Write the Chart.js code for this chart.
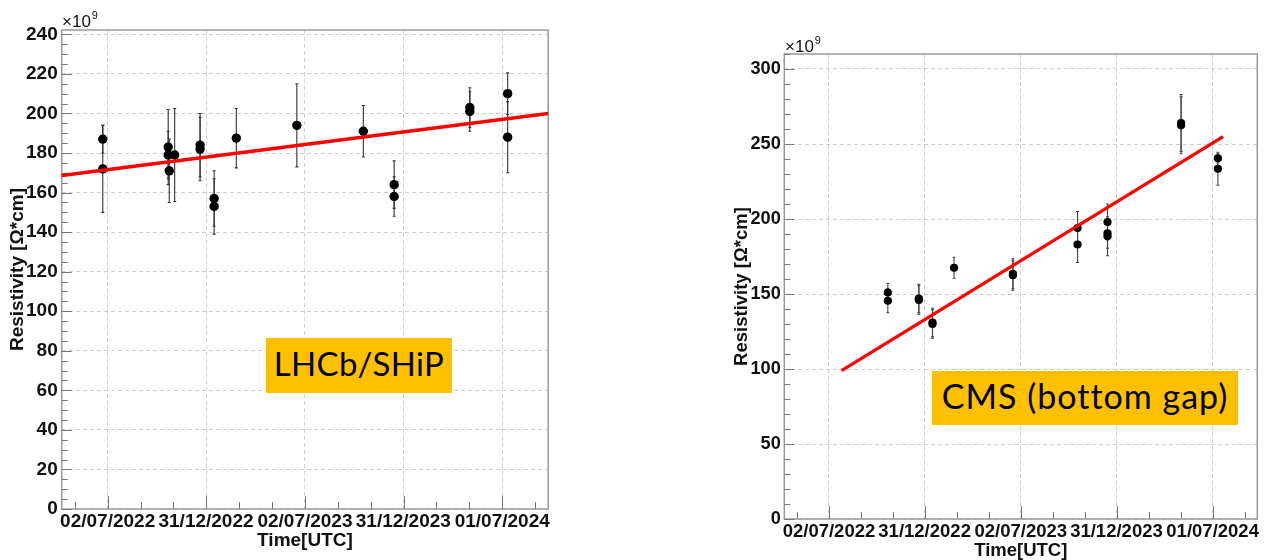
<!DOCTYPE html>
<html>
<head>
<meta charset="utf-8">
<script src="https://cdn.jsdelivr.net/npm/chart.js@4.4.1/dist/chart.umd.min.js"></script>
<style>
  html, body { margin: 0; padding: 0; background: #fff; }
  #page { position: relative; width: 1265px; height: 560px; overflow: hidden; }
  canvas { position: absolute; top: 0; }
  .exp { position: absolute; font-family: "Liberation Sans", Arial, sans-serif; font-size: 17px; line-height: 1; color: #111; white-space: nowrap; }
  .exp sup { font-size: 11px; vertical-align: baseline; position: relative; top: -8px; margin-left: 1px; }
  .tag { position: absolute; background: #ffc000; color: #000; font-family: Lato, "Open Sans", sans-serif;
         display: flex; align-items: center; justify-content: center; white-space: nowrap; box-sizing: border-box; padding-bottom: 5px; }
</style>
</head>
<body>
<div id="page">
  <canvas id="lhcb" width="632" height="560" style="left:0"></canvas>
  <canvas id="cms" width="633" height="560" style="left:632px"></canvas>
  <div class="exp" style="left:62px;top:12.8px">×10<sup>9</sup></div>
  <div class="exp" style="left:785px;top:37.8px">×10<sup>9</sup></div>
  <div class="tag" style="left:266px;top:338px;width:186px;height:55px;font-size:33px;letter-spacing:0.3px">LHCb/SHiP</div>
  <div class="tag" style="left:932px;top:371px;width:306px;height:54px;font-size:34px;letter-spacing:1px">CMS (bottom gap)</div>
</div>
<script>
// ---- shared time axis ----
const EPOCH = '2022-07-02';
const axisRange = ['2022-04-08', '2024-09-24'];
const timeTickLabels = ['02/07/2022', '31/12/2022', '02/07/2023', '31/12/2023', '01/07/2024'];

// ---- LHCb/SHiP chamber ----
const lhcbDates  = ['2022-06-23', '2022-06-23', '2022-10-22', '2022-10-22', '2022-10-24', '2022-11-03',
                    '2022-12-20', '2022-12-20', '2023-01-15', '2023-01-15', '2023-02-25', '2023-06-17',
                    '2023-10-18', '2023-12-14', '2023-12-14', '2024-05-02', '2024-05-02', '2024-07-11', '2024-07-11'];
const lhcbValues = [187, 172, 183, 179, 171, 179, 184, 182, 157, 153, 187.5, 194, 191, 164, 158, 203, 201, 210, 188];
const lhcbErrors = [7, 22, 19, 12, 16, 23.5, 16, 16, 14, 14, 15, 21, 13, 12, 10, 10, 10, 10.5, 18];
const lhcbFitDates  = ['2022-04-08', '2024-09-24'];
const lhcbFitValues = [168.6, 200.0];
const lhcbYTicks = [0, 20, 40, 60, 80, 100, 120, 140, 160, 180, 200, 220, 240];

// ---- CMS bottom gap ----
const cmsDates  = ['2022-10-22', '2022-10-22', '2022-12-20', '2022-12-20', '2023-01-15', '2023-01-15',
                   '2023-02-25', '2023-06-17', '2023-06-17', '2023-10-18', '2023-10-18', '2023-12-14',
                   '2023-12-14', '2023-12-14', '2024-05-02', '2024-05-02', '2024-07-11', '2024-07-11'];
const cmsValues = [151, 145.5, 147, 146, 131, 130, 167.5, 163.5, 162.5, 194, 183, 198, 190.5, 188.5, 264, 262.5, 240.5, 233.5];
const cmsErrors = [6, 8, 9.5, 9.5, 9.5, 9.5, 7, 10, 10, 11, 12, 12, 10, 13, 19, 19, 3, 11];
const cmsFitDates  = ['2022-07-26', '2024-07-21'];
const cmsFitValues = [98.9, 254.9];
const cmsYTicks = [0, 50, 100, 150, 200, 250, 300];

// days since EPOCH
const epochMs = (() => { const [y, m, d] = EPOCH.split('-').map(Number); return Date.UTC(y, m - 1, d); })();
function dayOfIso(s) { const [y, m, d] = s.split('-').map(Number); return (Date.UTC(y, m - 1, d) - epochMs) / 864e5; }
function dayOfLabel(s) { const [d, m, y] = s.split('/').map(Number); return (Date.UTC(y, m - 1, d) - epochMs) / 864e5; }

const xMin = dayOfIso(axisRange[0]);
const xMax = dayOfIso(axisRange[1]);
const xMajor = timeTickLabels.map(dayOfLabel);

const FONT = '"Liberation Sans", Arial, sans-serif';

// ROOT-like frame, inward tick marks and vertical error bars
const rootAxes = {
  id: 'rootAxes',
  beforeDatasetsDraw(chart, args, o) {
    const { ctx, chartArea: a, scales: { x, y } } = chart;
    ctx.save();
    ctx.strokeStyle = o.frameColor;
    ctx.lineWidth = o.frameWidth;
    ctx.strokeRect(a.left, a.top, a.right - a.left, a.bottom - a.top);

    ctx.strokeStyle = o.tickColor;
    ctx.lineWidth = 1;
    ctx.beginPath();
    for (let v = 0; v <= y.max + 1e-6; v += o.yMinorStep) {
      const py = Math.round(y.getPixelForValue(v)) + 0.5;
      const len = o.yTicks.includes(v) ? o.yMajorLen : o.yMinorLen;
      ctx.moveTo(a.left, py); ctx.lineTo(a.left + len, py);
    }
    const step = (xMajor[xMajor.length - 1] - xMajor[0]) / (xMajor.length - 1) / 3;
    for (let k = -6; k <= 18; k++) {
      const v = xMajor[0] + k * step;
      if (v < x.min || v > x.max) continue;
      const px = Math.round(x.getPixelForValue(v)) + 0.5;
      const len = (k % 3 === 0) ? o.xMajorLen : o.xMinorLen;
      ctx.moveTo(px, a.bottom); ctx.lineTo(px, a.bottom - len);
    }
    ctx.stroke();

    ctx.strokeStyle = o.errColor;
    ctx.lineWidth = o.errWidth;
    chart.data.datasets.forEach((ds, i) => {
      if (!ds.errors) return;
      const meta = chart.getDatasetMeta(i);
      meta.data.forEach((pt, j) => {
        const v = ds.data[j].y, e = ds.errors[j];
        const y1 = y.getPixelForValue(v + e), y2 = y.getPixelForValue(v - e);
        ctx.beginPath();
        ctx.moveTo(pt.x, y1); ctx.lineTo(pt.x, y2);
        ctx.moveTo(pt.x - 1.5, y1); ctx.lineTo(pt.x + 1.5, y1);
        ctx.moveTo(pt.x - 1.5, y2); ctx.lineTo(pt.x + 1.5, y2);
        ctx.stroke();
      });
    });
    ctx.restore();
  }
};

function makeChart(id, c) {
  const points = c.dates.map((d, i) => ({ x: dayOfIso(d), y: c.values[i] }));
  const fit = c.fitDates.map((d, i) => ({ x: dayOfIso(d), y: c.fitValues[i] }));
  const tickFont = { family: FONT, weight: 'bold', size: c.tickSize };
  const titleFont = { family: FONT, weight: 'bold', size: c.titleSize, lineHeight: 1 };
  return new Chart(document.getElementById(id), {
    type: 'scatter',
    data: {
      datasets: [
        { data: fit, showLine: true, borderColor: '#ff0000', borderWidth: c.fitWidth, pointRadius: 0, order: 0, clip: false },
        { data: points, errors: c.errors, pointRadius: c.markerRadius, pointBackgroundColor: '#000', pointBorderWidth: 0, order: 1 }
      ]
    },
    options: {
      responsive: false, animation: false, devicePixelRatio: 1, events: [],
      layout: { padding: { left: 0, top: c.top, right: c.right, bottom: 0 } },
      plugins: {
        legend: { display: false }, tooltip: { enabled: false },
        rootAxes: { frameColor: '#9a9a9a', frameWidth: 1.5, tickColor: '#777', yTicks: c.yTicks, yMinorStep: c.yMinorStep,
                    yMajorLen: 10, yMinorLen: 6, xMajorLen: 13, xMinorLen: 7, errColor: c.errColor, errWidth: 1.1 }
      },
      scales: {
        x: {
          type: 'linear', min: xMin, max: xMax,
          afterBuildTicks: s => { s.ticks = xMajor.map(v => ({ value: v })); },
          afterFit: s => { s.height = c.xHeight; },
          ticks: { autoSkip: false, maxRotation: 0, minRotation: 0, padding: 1.5, color: '#111', font: tickFont,
                   callback: (v, i) => timeTickLabels[i] },
          grid: { color: '#cfcfcf', lineWidth: 1, drawTicks: false },
          border: { display: false, dash: [4, 3] },
          title: { display: true, text: 'Time[UTC]', color: '#111', font: titleFont, padding: { top: 0, bottom: c.xTitlePad } }
        },
        y: {
          min: 0, max: c.yMax,
          afterBuildTicks: s => { s.ticks = c.yTicks.map(v => ({ value: v })); },
          afterFit: s => { s.width = c.yWidth; },
          ticks: { padding: c.yLabelPad, color: '#111', font: { family: FONT, weight: 'bold', size: c.yTickSize },
                   callback: v => String(v) },
          grid: { color: '#cfcfcf', lineWidth: 1, drawTicks: false },
          border: { display: false, dash: [4, 3] },
          title: { display: true, text: 'Resistivity [Ω*cm]', color: '#111', font: titleFont, padding: { top: c.yTitlePad, bottom: 0 } }
        }
      }
    },
    plugins: [rootAxes]
  });
}

makeChart('lhcb', {
  dates: lhcbDates, values: lhcbValues, errors: lhcbErrors,
  fitDates: lhcbFitDates, fitValues: lhcbFitValues, yTicks: lhcbYTicks, yMinorStep: 5, yMax: 242.2,
  top: 30, right: 83.8, yWidth: 61.7, xHeight: 51, yLabelPad: 4, yTitlePad: 8, xTitlePad: 9.5,
  tickSize: 19, yTickSize: 19, titleSize: 19, markerRadius: 4.7, fitWidth: 3.5, errColor: '#333'
});

makeChart('cms', {
  dates: cmsDates, values: cmsValues, errors: cmsErrors,
  fitDates: cmsFitDates, fitValues: cmsFitValues, yTicks: cmsYTicks, yMinorStep: 10, yMax: 310,
  top: 54, right: 7.7, yWidth: 152.3, xHeight: 41, yLabelPad: 3.5, yTitlePad: 100.8, xTitlePad: 0.3,
  tickSize: 18.5, yTickSize: 18.2, titleSize: 18.5, markerRadius: 4.1, fitWidth: 3.2, errColor: '#444'
});
</script>
</body>
</html>
